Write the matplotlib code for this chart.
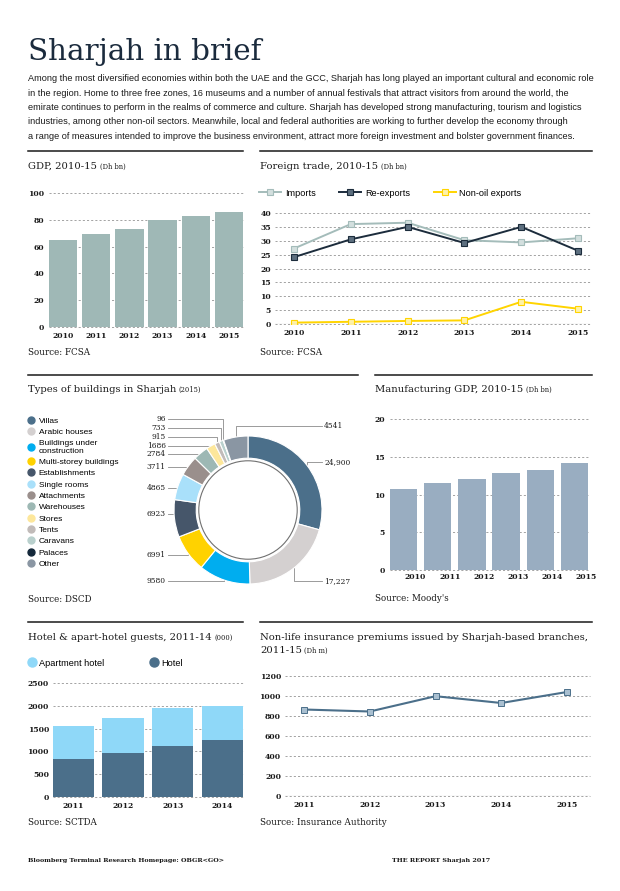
import matplotlib
matplotlib.use("Agg")
import matplotlib.pyplot as plt
from matplotlib import font_manager
from matplotlib.lines import Line2D
from matplotlib.patches import Circle
import numpy as np

W, H = 620, 891

# ---- data -------------------------------------------------------------
gdp_years = ["2010", "2011", "2012", "2013", "2014", "2015"]
gdp_values = [65.0, 69.5, 73.0, 79.5, 82.7, 85.7]

trade_years = ["2010", "2011", "2012", "2013", "2014", "2015"]
imports = [27.2, 36.0, 36.5, 30.2, 29.4, 30.9]
re_exports = [24.1, 30.5, 35.0, 29.2, 35.0, 26.4]
non_oil_exports = [0.5, 0.8, 1.1, 1.3, 8.0, 5.5]

building_types = ["Villas", "Arabic houses", "Buildings under\nconstruction",
                  "Multi-storey buildings", "Establishments", "Single rooms",
                  "Attachments", "Warehouses", "Stores", "Tents", "Caravans",
                  "Palaces", "Other"]
building_counts = [24900, 17227, 9580, 6991, 6923, 4865, 3711, 2784, 1686,
                   915, 733, 96, 4541]

mfg_years = ["2010", "2011", "2012", "2013", "2014", "2015"]
mfg_values = [10.7, 11.5, 12.1, 12.8, 13.2, 14.2]

hotel_years = ["2011", "2012", "2013", "2014"]
hotel_guests = [830, 965, 1110, 1250]
apart_guests = [720, 765, 855, 750]

ins_years = ["2011", "2012", "2013", "2014", "2015"]
ins_values = [865, 845, 998, 930, 1040]

# ---- styles -----------------------------------------------------------
names = {f.name for f in font_manager.fontManager.ttflist}
NARROW = "Liberation Sans Narrow" if "Liberation Sans Narrow" in names else "Liberation Sans"
SERIF = "DejaVu Serif"
INK = "#1a1a1a"
NAVY = "#1b2b3d"
GRID = dict(color="#949494", lw=0.6, ls=(0, (2.5, 2.5)))

building_colors = ["#4b6f8a", "#d4d0d0", "#00adef", "#ffd200", "#46566a",
                   "#a9e0fa", "#9a8f8c", "#9db8b4", "#fde79b", "#c1bbb9",
                   "#b9d0cd", "#14283a", "#8a96a3"]
# label layout for the donut (side, y in donut units)
label_side = ["R", "R", "L", "L", "L", "L", "L", "L", "L", "L", "L", "L", "R"]
label_y = [0.65, -0.96, -0.96, -0.61, -0.054, 0.30, 0.58, 0.757, 0.865,
           0.99, 1.11, 1.23, 1.135]

plt.rcParams["font.family"] = SERIF

fig = plt.figure(figsize=(W / 100, H / 100), dpi=100)
renderer = fig.canvas.get_renderer()


def fx(px):
    return px / W


def fy(py):
    return 1 - py / H


def px_axes(x0, y0, x1, y1):
    return fig.add_axes([fx(x0), fy(y1), (x1 - x0) / W, (y1 - y0) / H])


def rule(x0, x1, y):
    fig.add_artist(Line2D([fx(x0), fx(x1)], [fy(y), fy(y)], color=INK, lw=1.1))


def panel_title(x, y, main, small):
    t = fig.text(fx(x), fy(y), main, size=7.2, color=INK, va="baseline")
    bb = t.get_window_extent(renderer)
    fig.text(bb.x1 / W + 2.5 / W, fy(y), small, size=4.9, color=INK, va="baseline")


def source(x, y, s):
    fig.text(fx(x), fy(y), s, size=6.3, color=INK, va="baseline")


def style(ax, ypad, xpad=3.5):
    for sp in ax.spines.values():
        sp.set_visible(False)
    ax.tick_params(length=0, labelsize=5.5, colors=INK)
    ax.tick_params(axis="y", pad=ypad)
    ax.tick_params(axis="x", pad=xpad)
    plt.setp(ax.get_xticklabels() + ax.get_yticklabels(), fontweight="bold")
    ax.set_axisbelow(True)
    ax.yaxis.grid(True, **GRID)
    for gl in ax.get_ygridlines():
        gl.set_clip_on(False)


# ---- header ------------------------------------------------------------
t = fig.text(fx(28), fy(60), "Sharjah in brief", size=24, color=NAVY, va="baseline")
t.set_fontsize(24 * 234 / t.get_window_extent(renderer).width)

intro = [
    "Among the most diversified economies within both the UAE and the GCC, Sharjah has long played an important cultural and economic role",
    "in the region. Home to three free zones, 16 museums and a number of annual festivals that attract visitors from around the world, the",
    "emirate continues to perform in the realms of commerce and culture. Sharjah has developed strong manufacturing, tourism and logistics",
    "industries, among other non-oil sectors. Meanwhile, local and federal authorities are working to further develop the economy through",
    "a range of measures intended to improve the business environment, attract more foreign investment and bolster government finances.",
]
lines = [fig.text(fx(28), fy(81 + 14.5 * i), s, family=NARROW, size=7, color=INK, va="baseline")
         for i, s in enumerate(intro)]
widest = max(l.get_window_extent(renderer).width for l in lines)
for l in lines:
    l.set_fontsize(7 * 564 / widest)

# ---- GDP -------------------------------------------------------------------
rule(28, 243, 151)
panel_title(28, 169, "GDP, 2010-15", "(Dh bn)")
ax = px_axes(49, 193, 243, 327)
x = np.arange(len(gdp_years))
ax.bar(x, gdp_values, width=0.85, color="#9fb8b6")
ax.set_xlim(-0.425, len(gdp_years) - 0.575)
ax.set_ylim(0, 100)
ax.set_yticks([0, 20, 40, 60, 80, 100])
ax.set_xticks(x, gdp_years)
style(ax, 3.6)
source(28, 355, "Source: FCSA")

# ---- Foreign trade ---------------------------------------------------------
rule(260, 592, 151)
panel_title(260, 169, "Foreign trade, 2010-15", "(Dh bn)")
ax = px_axes(275, 213, 590, 324)
x = np.arange(len(trade_years))
series = [
    ("Imports", imports, "#a4bcba", "#d3dfde"),
    ("Re-exports", re_exports, "#1c2c3c", "#5d6f7f"),
    ("Non-oil exports", non_oil_exports, "#ffd400", "#fff2a8"),
]
handles = []
for name, vals, col, face in series:
    h, = ax.plot(x, vals, color=col, lw=1.4, marker="s", ms=4.2, mfc=face,
                 mec=col, mew=0.8, label=name)
    handles.append(h)
ax.axhline(0, color="#9a9a9a", lw=0.8)
ax.set_xlim(-0.334, 5.21)
ax.set_ylim(0, 40)
ax.set_yticks(range(0, 41, 5))
ax.set_xticks(x, trade_years)
style(ax, 2.9)
ax.legend(handles=handles, loc="center left", bbox_to_anchor=(fx(259), fy(193)),
          bbox_transform=fig.transFigure, ncol=3, frameon=False, handlelength=2.4,
          columnspacing=2.6, handletextpad=0.4, borderaxespad=0, borderpad=0,
          prop={"family": NARROW, "size": 6.6})
source(260, 355, "Source: FCSA")

# ---- Types of buildings ------------------------------------------------------
rule(28, 358, 375)
panel_title(28, 392, "Types of buildings in Sharjah", "(2015)")
R_PX, CX, CY = 74, 248, 510
half = 1.6 * R_PX
ax = px_axes(CX - half, CY - half, CX + half, CY + half)
wedges, _ = ax.pie(building_counts, colors=building_colors, startangle=90,
                   counterclock=False, radius=1,
                   wedgeprops=dict(width=0.30, edgecolor="white", linewidth=0.8))
ax.add_patch(Circle((0, 0), 0.665, fill=False, ec="#707070", lw=0.8))
ax.set_xlim(-1.6, 1.6)
ax.set_ylim(-1.6, 1.6)
ax.axis("off")
for w, v, side, ly in zip(wedges, building_counts, label_side, label_y):
    mid = np.deg2rad((w.theta1 + w.theta2) / 2)
    axx, ayy = np.cos(mid), np.sin(mid)
    txt = f"{v:,}" if v >= 10000 else str(v)
    if side == "L":
        x0, tx, ha = -1.08, -1.11, "right"
    else:
        x0, tx, ha = 1.0, 1.03, "left"
    ax.plot([x0, axx, axx], [ly, ly, ayy], color="#8a8a8a", lw=0.6, zorder=0.5)
    ax.text(tx, ly, txt, ha=ha, va="center", size=5.4, color=INK)

leg_handles = [Line2D([], [], ls="", marker="o", ms=5, mfc=c, mec=c) for c in building_colors]
fig.legend(handles=leg_handles, labels=building_types, loc="upper left",
           bbox_to_anchor=(fx(28), fy(417)), frameon=False, handlelength=0.8,
           handletextpad=0.5, labelspacing=0.42, borderaxespad=0, borderpad=0,
           prop={"family": NARROW, "size": 6})
source(28, 602, "Source: DSCD")

# ---- Manufacturing GDP -----------------------------------------------------
rule(375, 592, 375)
panel_title(375, 392, "Manufacturing GDP, 2010-15", "(Dh bn)")
ax = px_axes(390, 419, 588, 570)
x = np.arange(len(mfg_years))
ax.bar(x, mfg_values, width=0.8, color="#99adc1")
ax.set_xlim(-0.4, len(mfg_years) - 0.6)
ax.set_ylim(0, 20)
ax.set_yticks([0, 5, 10, 15, 20])
ax.set_xticks(x + 0.35, mfg_years)
style(ax, 3.6, 2.5)
source(375, 601, "Source: Moody's")

# ---- Hotel guests ------------------------------------------------------------
rule(28, 243, 622)
panel_title(28, 640, "Hotel & apart-hotel guests, 2011-14", "(000)")
ax = px_axes(52.7, 683.3, 243, 796.7)
x = np.arange(len(hotel_years))
ax.bar(x, hotel_guests, width=0.83, color="#4b6f8a", label="Hotel")
ax.bar(x, apart_guests, bottom=hotel_guests, width=0.83, color="#8fd8f8",
       label="Apartment hotel")
ax.set_xlim(-0.415, len(hotel_years) - 0.585)
ax.set_ylim(0, 2500)
ax.set_yticks(range(0, 2501, 500))
ax.set_xticks(x, hotel_years)
style(ax, 2.7)
hl = [Line2D([], [], ls="", marker="o", ms=6.5, mfc=c, mec=c) for c in ("#8fd8f8", "#4b6f8a")]
ax.legend(handles=hl, labels=["Apartment hotel", "Hotel"], loc="center left",
          bbox_to_anchor=(fx(28), fy(663)), bbox_transform=fig.transFigure, ncol=2,
          frameon=False, handlelength=0.8, handletextpad=0.4, columnspacing=5.0,
          borderaxespad=0, borderpad=0, prop={"family": NARROW, "size": 6.6})
source(28, 825, "Source: SCTDA")

# ---- Insurance premiums ------------------------------------------------------
rule(260, 592, 622)
fig.text(fx(260), fy(640), "Non-life insurance premiums issued by Sharjah-based branches,",
         size=7.2, color=INK, va="baseline")
panel_title(260, 653, "2011-15", "(Dh m)")
ax = px_axes(285, 676, 590, 796)
x = np.arange(len(ins_years))
ax.plot(x, ins_values, color="#4b6f8a", lw=1.5, marker="s", ms=4.2,
        mfc="#a9bfd0", mec="#4b6f8a", mew=0.7)
ax.axhline(0, color="#9a9a9a", lw=0.8)
ax.set_xlim(-0.29, 4.35)
ax.set_ylim(0, 1200)
ax.set_yticks(range(0, 1201, 200))
ax.set_xticks(x, ins_years)
style(ax, 2.9)
source(260, 825, "Source: Insurance Authority")

# ---- footer ----------------------------------------------------------------
fig.text(fx(28), fy(862), "Bloomberg Terminal Research Homepage: OBGR<GO>",
         size=4.6, weight="bold", color=INK, va="baseline")
fig.text(fx(392), fy(862), "THE REPORT Sharjah 2017", size=4.6, weight="bold",
         color=INK, va="baseline")

fig.savefig("out.png", dpi=100)
